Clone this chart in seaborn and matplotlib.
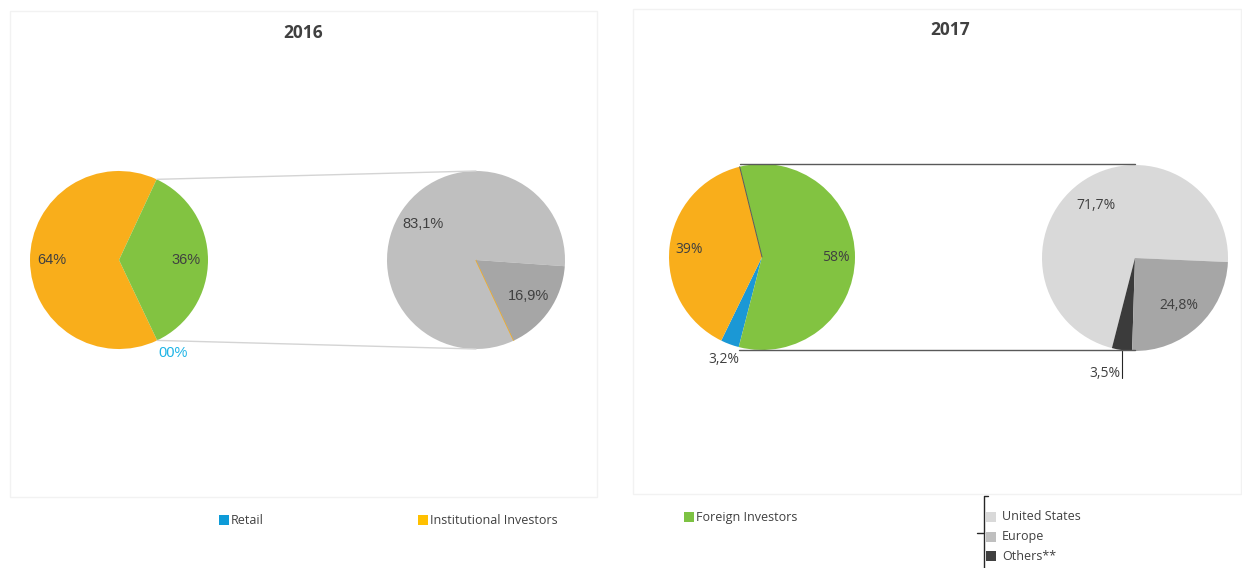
import numpy as np
import matplotlib
matplotlib.use("Agg")
import matplotlib.pyplot as plt
from matplotlib.patches import Rectangle
import seaborn as sns

# investor split (order: Retail, Institutional, Foreign)
investors = ["Retail", "Institutional Investors", "Foreign Investors"]
inv_2016 = [0, 64, 36]
inv_2017 = [3.2, 39, 58]
# foreign investors by region (order: United States, Europe, Others**)
regions = ["United States", "Europe", "Others**"]
reg_2016 = [83.1, 16.9, 0]
reg_2017 = [71.7, 24.8, 3.5]

inv_colors = ["#1B98D5", "#F9AE1B", "#82C341"]
inv_legend_colors = ["#0E9BD8", "#FFC000", "#7DC243"]
reg_colors_2016 = ["#BFBFBF", "#A6A6A6", "#A6A6A6"]
reg_colors_2017 = ["#D9D9D9", "#A6A6A6", "#3B3B3B"]
reg_legend_colors = ["#D9D9D9", "#BFBFBF", "#404040"]

sns.set_theme(style="white")
plt.rcParams["font.family"] = ["Open Sans", "DejaVu Sans"]

W, H = 1242, 568
fig = plt.figure(figsize=(W / 100, H / 100), dpi=100)
ax = fig.add_axes([0, 0, 1, 1])
TXT = "#404040"


def Y(y):
    # picture rows -> data y
    return H - y


def fmt(v):
    if float(v).is_integer():
        return "{:02d}%".format(int(v))
    return "{:.1f}%".format(v).replace(".", ",")


def mid(w):
    return np.deg2rad((w.theta1 + w.theta2) / 2)


# panel frames
ax.add_patch(Rectangle((10, Y(497)), 587, 486, fill=False, ec="#F2F2F2", lw=1))
ax.add_patch(Rectangle((633, Y(494)), 608, 485, fill=False, ec="#F2F2F2", lw=1))
ax.text(303, Y(33), "2016", ha="center", va="center", fontsize=12.5,
        fontweight="bold", color=TXT)
ax.text(950, Y(30), "2017", ha="center", va="center", fontsize=12.5,
        fontweight="bold", color=TXT)

# ---- 2016 ----
c1, r1 = (119, Y(260)), 89
w1, _ = ax.pie(inv_2016, colors=inv_colors, startangle=-64.6, counterclock=False,
               center=c1, radius=r1, wedgeprops=dict(lw=0))
for i, w in enumerate(w1):
    a = mid(w)
    if inv_2016[i] == 0:
        ax.text(c1[0] + 1.22 * r1 * np.cos(a) - 7, c1[1] + 1.03 * r1 * np.sin(a) - 10,
                fmt(inv_2016[i]), ha="left", va="center", fontsize=10.5,
                color="#1EB4E6", family="Liberation Sans")
    else:
        ax.text(c1[0] + 0.75 * r1 * np.cos(a), c1[1] + 0.75 * r1 * np.sin(a),
                fmt(inv_2016[i]), ha="center", va="center", fontsize=10.5,
                color=TXT, family="Liberation Sans")

c2, r2 = (476, Y(260)), 89
order = [0, 2, 1]
w2, _ = ax.pie([reg_2016[k] for k in order], colors=[reg_colors_2016[k] for k in order],
               startangle=-4, center=c2, radius=r2, wedgeprops=dict(lw=0))
w2[1].set_edgecolor("#F9AE1B")
w2[1].set_linewidth(1)
for j, k in enumerate(order):
    if reg_2016[k] == 0:
        continue
    a = mid(w2[j])
    ax.text(c2[0] + 0.72 * r2 * np.cos(a), c2[1] + 0.72 * r2 * np.sin(a),
            fmt(reg_2016[k]), ha="center", va="center", fontsize=10.5,
            color=TXT, family="Liberation Sans")

fw = w1[2]
for th, ty in [(fw.theta2, c2[1] + r2), (fw.theta1, c2[1] - r2)]:
    t = np.deg2rad(th)
    ax.plot([c1[0] + r1 * np.cos(t), c2[0]], [c1[1] + r1 * np.sin(t), ty],
            color="#D4D4D4", lw=1)

# ---- 2017 ----
c3, r3 = (762, Y(257)), 93
w3, _ = ax.pie(inv_2017, colors=inv_colors, startangle=-104.5, counterclock=False,
               center=c3, radius=r3, wedgeprops=dict(lw=0))
tb = np.deg2rad(w3[2].theta2)
ax.plot([c3[0], c3[0] + r3 * np.cos(tb)], [c3[1], c3[1] + r3 * np.sin(tb)],
        color="#5A5A5A", lw=0.7)
for i, w in enumerate(w3):
    a = mid(w)
    f = 1.17 if inv_2017[i] < 5 else 0.79
    ax.text(c3[0] + f * r3 * np.cos(a), c3[1] + f * r3 * np.sin(a),
            fmt(inv_2017[i]), ha="center", va="center", fontsize=10,
            color=TXT)

c4, r4 = (1135, Y(258)), 93
w4, _ = ax.pie([reg_2017[k] for k in order], colors=[reg_colors_2017[k] for k in order],
               startangle=-2.5, center=c4, radius=r4, wedgeprops=dict(lw=0))
for j, k in enumerate(order):
    a = mid(w4[j])
    if reg_2017[k] < 5:
        x0, y0 = c4[0] + r4 * np.cos(a), c4[1] + r4 * np.sin(a)
        x1, y1 = x0, y0 - 28
        ax.plot([x0, x1], [y0, y1], color="#262626", lw=0.8)
        ax.text(x1 - 1, y1 + 5, fmt(reg_2017[k]), ha="right", va="center",
                fontsize=10, color=TXT)
    else:
        ax.text(c4[0] + 0.7 * r4 * np.cos(a), c4[1] + 0.7 * r4 * np.sin(a),
                fmt(reg_2017[k]), ha="center", va="center", fontsize=10, color=TXT)

# connectors run level with the top and bottom of the pies
fw = w3[2]
for th, sgn in [(fw.theta2, 1), (fw.theta1, -1)]:
    t = np.deg2rad(th)
    ax.plot([c3[0] + r3 * np.cos(t), c4[0]], [c3[1] + sgn * r3, c3[1] + sgn * r3],
            color="#595959", lw=1)

# ---- legends ----
leg_x = [224, 423, 689]
leg_y = [520, 520, 517]
for x, y, lab, col in zip(leg_x, leg_y, investors, inv_legend_colors):
    ax.scatter([x], [Y(y)], marker="s", s=42, color=col, lw=0)
    ax.text(x + 7, Y(y), lab, ha="left", va="center", fontsize=9, color=TXT)

for i, (lab, col) in enumerate(zip(regions, reg_legend_colors)):
    y = 517 + i * 19.5
    ax.scatter([991], [Y(y)], marker="s", s=42, color=col, lw=0)
    ax.text(1002, Y(y), lab, ha="left", va="center", fontsize=9, color=TXT)

ax.plot([988, 984, 984], [Y(496), Y(496), Y(568)], color="#262626", lw=1)
ax.plot([977, 984], [Y(533), Y(533)], color="#262626", lw=1)

ax.set_xlim(0, W)
ax.set_ylim(0, H)
ax.set_aspect("auto")
ax.axis("off")
fig.savefig("out.png", dpi=100)
